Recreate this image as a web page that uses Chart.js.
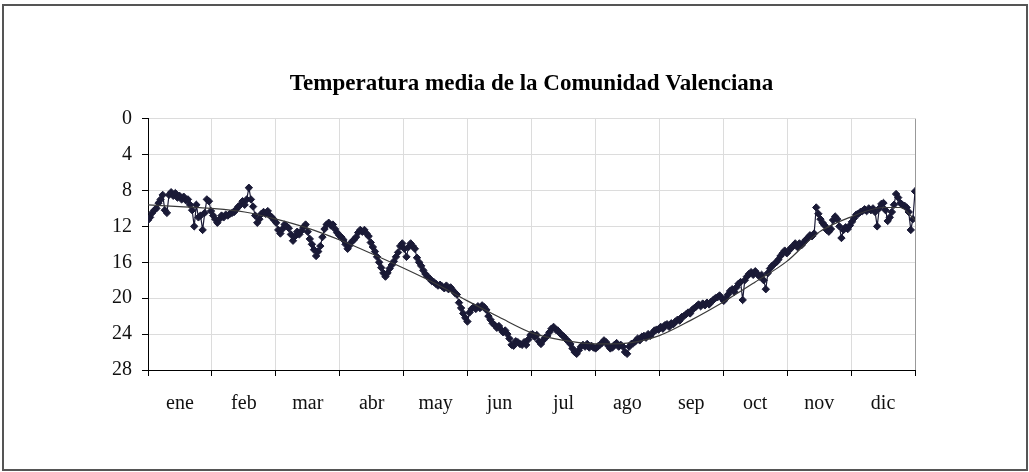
<!DOCTYPE html>
<html>
<head>
<meta charset="utf-8">
<title>Temperatura media de la Comunidad Valenciana</title>
<script src="https://cdn.jsdelivr.net/npm/chart.js"></script>
<style>
  html, body { margin: 0; padding: 0; background: #fff; }
  .marco { position: absolute; left: 2px; top: 4px; width: 1026px; height: 467px; border: 2px solid #555; box-sizing: border-box; }
</style>
</head>
<body>

<div class="marco"><canvas id="grafico"></canvas></div>

<script>
// temperatura media diaria (ºC), por meses
const ene = [11.3, 11.0, 10.5, 10.2, 10.0, 9.4, 9.0, 8.5, 10.2, 10.5, 8.5, 8.2, 8.6, 8.3, 8.8, 8.6, 9.0, 8.7, 9.1, 9.0, 9.6, 10.2, 12.0, 9.6, 11.0, 10.8, 12.4, 10.5, 9.0, 9.2, 10.3];
const feb = [10.8, 11.2, 11.6, 11.2, 10.8, 11.0, 10.7, 10.8, 10.6, 10.5, 10.4, 10.1, 9.8, 9.6, 9.2, 9.6, 9.0, 7.7, 9.0, 9.8, 10.8, 11.6, 11.2, 10.6, 10.4, 10.6, 10.3, 10.8];
const mar = [11.0, 11.3, 11.6, 12.4, 12.8, 12.3, 11.8, 12.0, 12.2, 12.9, 13.6, 13.1, 12.6, 12.9, 12.5, 12.1, 11.8, 12.6, 13.4, 14.0, 14.6, 15.3, 14.8, 14.2, 13.2, 12.3, 11.8, 11.6, 11.9, 11.8, 12.3];
const abr = [12.7, 13.0, 13.2, 13.5, 14.0, 14.5, 14.1, 13.7, 13.5, 13.2, 12.7, 12.4, 12.6, 12.4, 12.8, 13.1, 13.8, 14.3, 14.8, 15.4, 16.0, 16.6, 17.2, 17.6, 17.2, 16.7, 16.3, 15.9, 15.4, 14.9];
const may = [14.2, 13.9, 14.5, 15.4, 14.3, 13.9, 14.2, 14.5, 15.5, 16.0, 16.4, 16.9, 17.3, 17.6, 17.8, 18.1, 18.2, 18.4, 18.6, 18.5, 18.7, 18.9, 18.6, 19.0, 18.8, 19.1, 19.4, 19.6, 20.5, 21.1, 21.7];
const jun = [22.2, 22.6, 21.6, 21.2, 21.0, 21.2, 20.9, 21.1, 20.8, 21.0, 21.3, 22.0, 22.4, 22.8, 23.0, 23.3, 23.1, 23.5, 23.8, 23.6, 24.0, 24.5, 25.2, 25.3, 24.8, 24.9, 25.1, 25.2, 24.9, 25.2];
const jul = [24.6, 24.1, 24.0, 24.3, 24.1, 24.8, 25.1, 24.7, 24.4, 24.2, 23.8, 23.4, 23.2, 23.5, 23.6, 23.9, 24.1, 24.3, 24.6, 24.8, 25.1, 25.6, 26.0, 26.2, 25.8, 25.4, 25.2, 25.4, 25.1, 25.5, 25.3];
const ago = [25.5, 25.6, 25.4, 25.2, 25.0, 24.7, 24.9, 25.3, 25.6, 25.5, 25.2, 25.0, 25.4, 25.2, 25.4, 26.0, 26.2, 25.4, 25.1, 25.0, 24.8, 24.5, 24.7, 24.3, 24.2, 24.4, 24.0, 24.2, 23.9, 23.6, 23.5];
const sep = [23.5, 23.2, 23.4, 23.0, 22.9, 23.2, 22.8, 22.9, 22.6, 22.4, 22.5, 22.1, 22.0, 21.8, 21.6, 21.7, 21.3, 21.1, 20.9, 20.7, 20.9, 20.6, 20.8, 20.5, 20.7, 20.4, 20.2, 20.0, 19.9, 19.7];
const oct = [20.0, 20.3, 20.0, 19.6, 19.2, 19.0, 19.3, 18.8, 18.4, 18.2, 20.2, 18.0, 17.6, 17.3, 17.1, 17.4, 17.0, 17.3, 17.6, 17.4, 18.0, 19.0, 17.2, 16.7, 16.4, 16.2, 16.0, 15.7, 15.3, 15.0, 14.7];
const nov = [15.0, 14.7, 14.4, 14.2, 13.9, 14.3, 13.9, 14.1, 13.8, 13.5, 13.3, 13.0, 13.1, 12.8, 9.9, 10.6, 11.2, 11.6, 11.9, 12.4, 12.6, 12.3, 11.3, 10.9, 11.2, 12.0, 13.3, 12.4, 12.1, 12.3];
const dic = [11.9, 11.5, 11.1, 10.7, 10.6, 10.4, 10.3, 10.1, 10.3, 10.0, 10.2, 10.0, 10.4, 12.0, 10.0, 9.5, 9.4, 10.2, 11.4, 11.0, 10.4, 9.6, 8.4, 8.8, 9.4, 9.6, 9.7, 9.9, 10.4, 12.4, 11.2, 8.1];

// linea de tendencia, leida a ojo
const tendDias  = [0, 15, 30, 46, 61, 76, 91, 106, 122, 137, 152, 167, 183, 198, 213, 228, 243, 258, 274, 289, 304, 319, 334, 350, 358, 365];
const tendTemps = [9.6, 9.8, 10.0, 10.4, 11.2, 12.2, 13.5, 15.0, 16.7, 18.4, 20.3, 22.1, 23.9, 24.7, 25.1, 25.0, 24.2, 22.5, 20.4, 18.2, 15.9, 12.7, 11.0, 9.9, 9.9, 11.3];

const meses = ['ene', 'feb', 'mar', 'abr', 'may', 'jun', 'jul', 'ago', 'sep', 'oct', 'nov', 'dic'];

const temperaturas = [].concat(ene, feb, mar, abr, may, jun, jul, ago, sep, oct, nov, dic);
const ultimoDia = temperaturas.length - 1;

const fuente = { family: '"Liberation Serif", "Times New Roman", serif', size: 20 };
const colorSerie = '#1a1a36';

new Chart(document.getElementById('grafico').getContext('2d'), {
  type: 'line',
  data: {
    datasets: [
      {
        label: 'Temperatura media',
        data: temperaturas.map((t, i) => ({ x: i, y: t })),
        borderColor: colorSerie,
        borderWidth: 1.2,
        pointStyle: 'rectRot',
        pointRadius: 3.7,
        pointBackgroundColor: colorSerie,
        pointBorderColor: colorSerie,
        pointBorderWidth: 1,
        order: 2
      },
      {
        label: 'Tendencia',
        data: tendDias.map((d, i) => ({ x: d, y: tendTemps[i] })),
        borderColor: '#3a3a3a',
        borderWidth: 1.2,
        pointRadius: 0,
        cubicInterpolationMode: 'monotone',
        order: 1
      }
    ]
  },
  options: {
    responsive: true,
    maintainAspectRatio: false,
    animation: false,
    layout: { padding: { top: 64, right: 111, bottom: 0, left: 0 } },
    plugins: {
      legend: { display: false },
      tooltip: { enabled: false },
      title: {
        display: true,
        text: 'Temperatura media de la Comunidad Valenciana',
        fullSize: false,
        color: '#000',
        font: { family: fuente.family, size: 23, weight: 'bold' },
        padding: { top: 0, bottom: 21 }
      }
    },
    scales: {
      x: {
        type: 'linear',
        min: 0,
        max: ultimoDia,
        afterBuildTicks: s => {
          // limites de mes en los pares, centro del mes en los impares
          s.ticks = Array.from({ length: 25 }, (_, i) => ({ value: ultimoDia * i / 24 }));
        },
        afterFit: s => { s.height = 99; },
        grid: {
          color: c => c.index % 2 ? 'rgba(0,0,0,0)' : (c.index === 24 ? '#999' : '#dcdcdc'),
          tickColor: c => c.index % 2 ? 'rgba(0,0,0,0)' : '#000',
          tickLength: 6
        },
        border: { color: '#000', width: 1 },
        ticks: {
          autoSkip: false,
          maxRotation: 0,
          padding: 16,
          color: '#111',
          font: fuente,
          callback: (v, i) => i % 2 ? meses[(i - 1) / 2] : ''
        }
      },
      y: {
        reverse: true,
        min: 0,
        max: 28,
        afterFit: s => { s.width = 144; },
        grid: {
          color: c => c.index === 0 ? '#999' : '#dcdcdc',
          tickColor: '#000',
          tickLength: 6
        },
        border: { color: '#000', width: 1 },
        ticks: { stepSize: 4, padding: 10, color: '#111', font: fuente }
      }
    }
  }
});
</script>

</body>
</html>
